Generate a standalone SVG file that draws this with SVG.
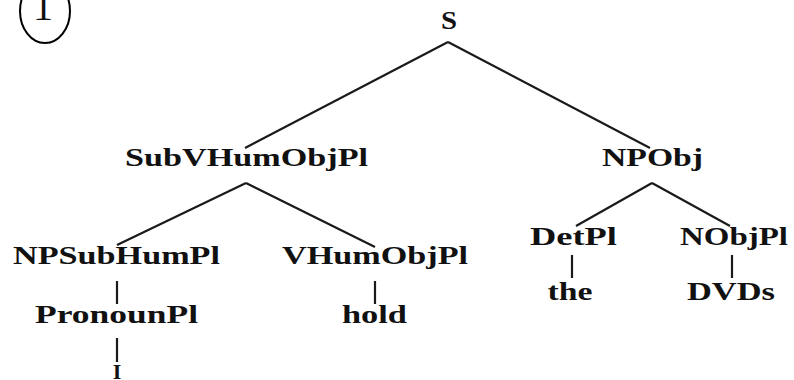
<svg xmlns="http://www.w3.org/2000/svg" width="794" height="380" viewBox="0 0 794 380">
<style>
text{font-family:"Liberation Serif","Times New Roman",serif;font-weight:bold;font-size:25px;fill:#111;text-anchor:middle}
.e{stroke:#1a1a1a;stroke-width:2.2;fill:none}
</style>
<rect width="794" height="380" fill="#fff"/>
<g id="label1">
<ellipse cx="45" cy="11" rx="25" ry="32" fill="none" stroke="#000" stroke-width="2"/>
<text x="43" y="20" style="font-weight:normal;font-size:40px">1</text>
</g>
<g id="connectors">
<line class="e" x1="448" y1="42" x2="245" y2="148"/>
<line class="e" x1="448" y1="42" x2="650" y2="148"/>
<line class="e" x1="246" y1="183" x2="117" y2="245"/>
<line class="e" x1="246" y1="183" x2="375" y2="247"/>
<line class="e" x1="652" y1="183" x2="576" y2="226"/>
<line class="e" x1="652" y1="183" x2="730" y2="226"/>
<line class="e" x1="117" y1="281" x2="117" y2="304"/>
<line class="e" x1="375" y1="281" x2="375" y2="304"/>
<line class="e" x1="572" y1="255" x2="572" y2="278"/>
<line class="e" x1="732" y1="255" x2="732" y2="278"/>
<line class="e" x1="117" y1="338" x2="117" y2="362"/>
</g>
<g id="n-S"><text x="449" y="29" textLength="16" lengthAdjust="spacingAndGlyphs">S</text></g>
<g id="n-SubVHumObjPl"><text x="246.5" y="166" textLength="243" lengthAdjust="spacingAndGlyphs">SubVHumObjPl</text></g>
<g id="n-NPObj"><text x="652.5" y="166" textLength="101" lengthAdjust="spacingAndGlyphs">NPObj</text></g>
<g id="n-NPSubHumPl"><text x="116.5" y="264" textLength="207" lengthAdjust="spacingAndGlyphs">NPSubHumPl</text></g>
<g id="n-VHumObjPl"><text x="375" y="264" textLength="186" lengthAdjust="spacingAndGlyphs">VHumObjPl</text></g>
<g id="n-DetPl"><text x="573.5" y="245" textLength="87" lengthAdjust="spacingAndGlyphs">DetPl</text></g>
<g id="n-NObjPl"><text x="734" y="245" textLength="108" lengthAdjust="spacingAndGlyphs">NObjPl</text></g>
<g id="n-PronounPl"><text x="116.5" y="323" textLength="163" lengthAdjust="spacingAndGlyphs">PronounPl</text></g>
<g id="n-hold"><text x="374.5" y="323" textLength="65" lengthAdjust="spacingAndGlyphs">hold</text></g>
<g id="n-the"><text x="570" y="300" textLength="45" lengthAdjust="spacingAndGlyphs">the</text></g>
<g id="n-DVDs"><text x="731" y="300" textLength="88" lengthAdjust="spacingAndGlyphs">DVDs</text></g>
<g id="n-I"><text x="117" y="379" style="font-size:22px">I</text></g>
</svg>
